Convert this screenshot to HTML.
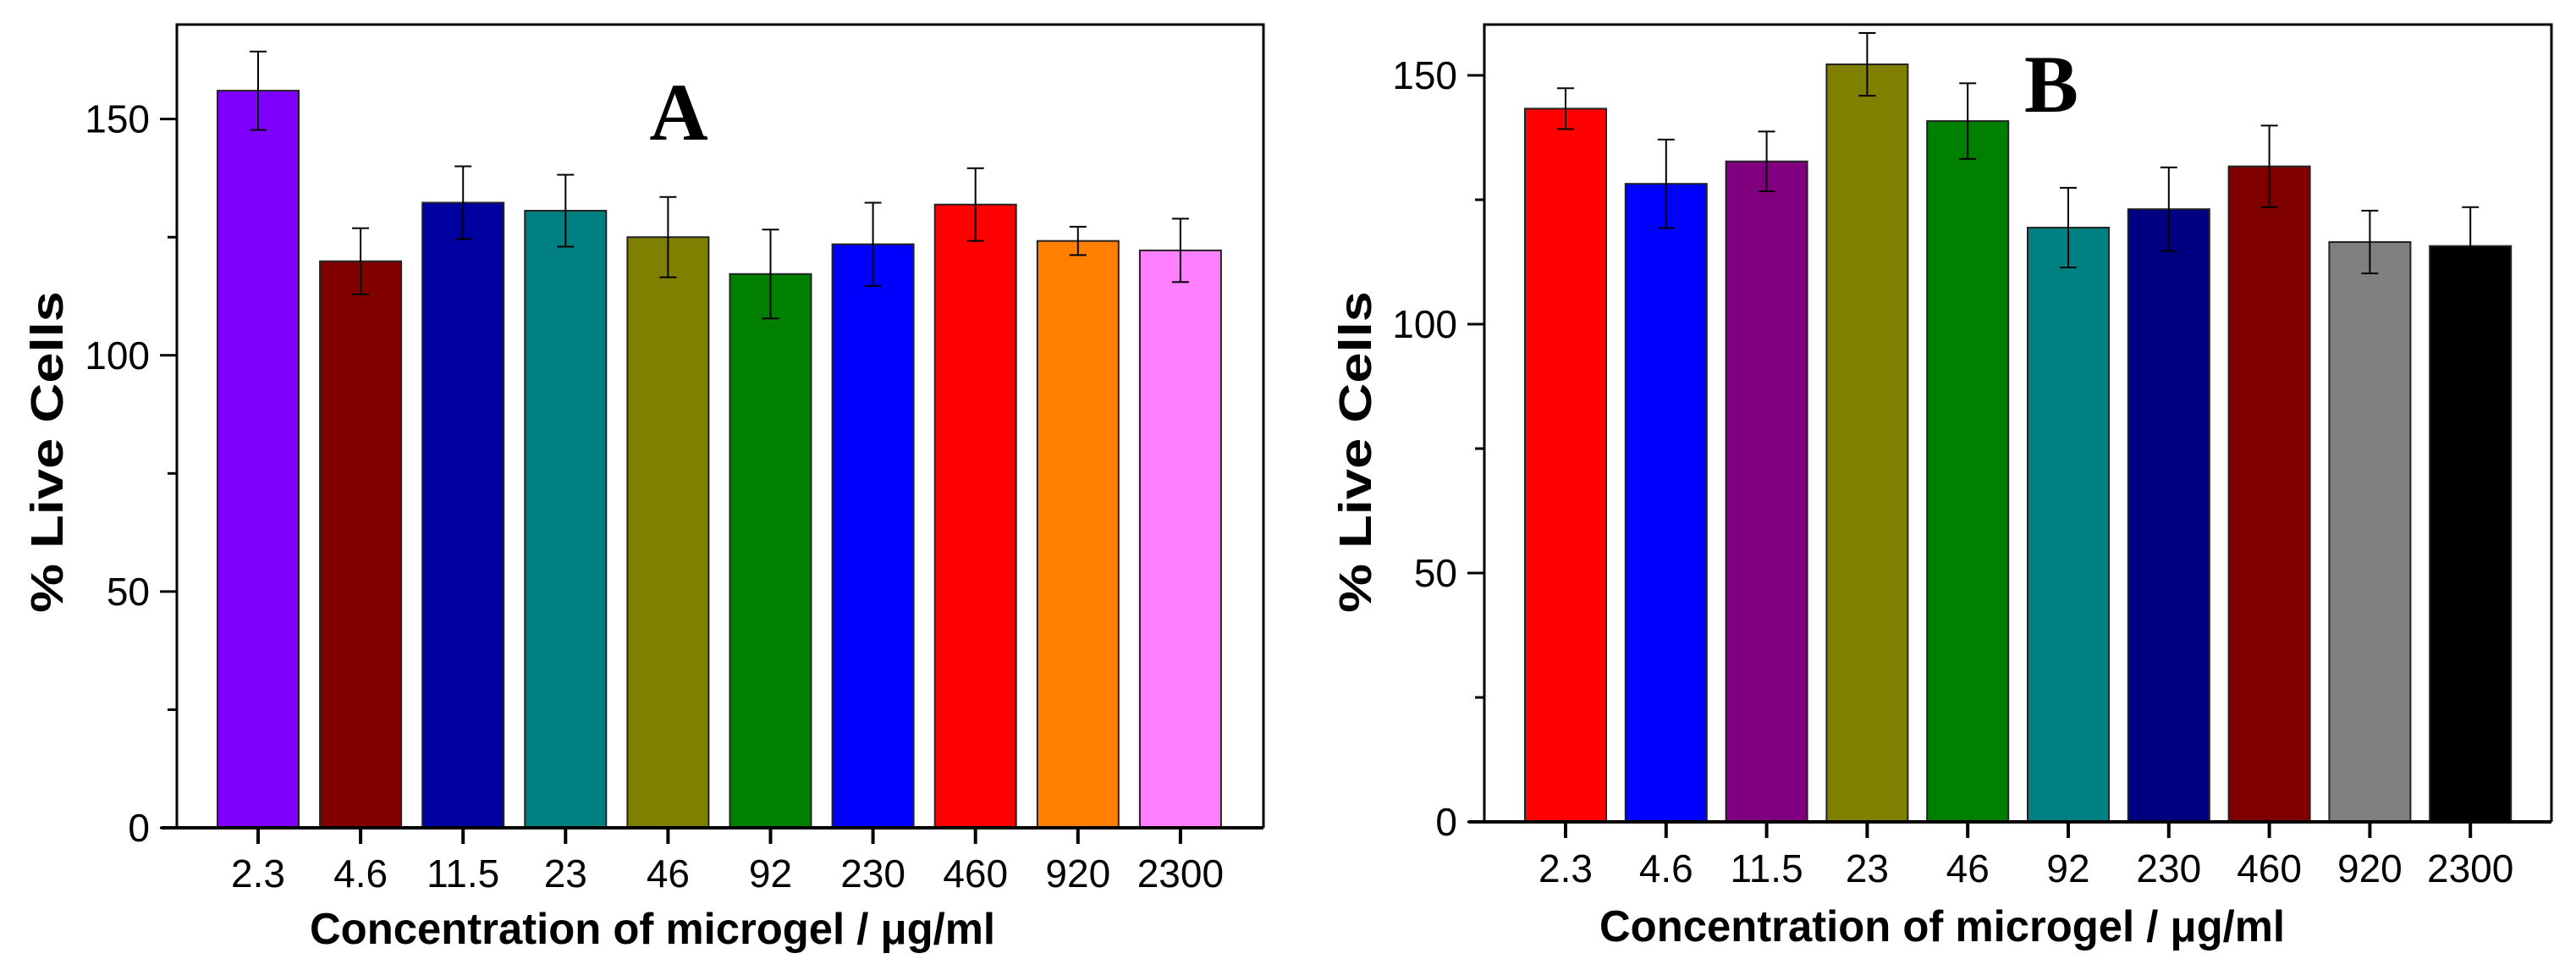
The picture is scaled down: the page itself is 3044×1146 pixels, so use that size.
<!DOCTYPE html>
<html><head><meta charset="utf-8"><style>
html,body{margin:0;padding:0;background:#fff;}
svg{display:block;font-family:"Liberation Sans",Arial,sans-serif;}
</style></head><body>
<svg id="fig" width="3044" height="1146" viewBox="0 0 3044 1146" xmlns="http://www.w3.org/2000/svg"></svg>
<script>
const categories = ["2.3","4.6","11.5","23","46","92","230","460","920","2300"];
const valuesA = [156.0,119.9,132.3,130.6,125.0,117.2,123.5,131.9,124.2,122.2];
const errorsA = [8.3,7.0,7.7,7.6,8.5,9.4,8.8,7.7,3.0,6.7];
const colorsA = ["#8000ff","#800000","#0000a0","#008080","#808000","#008000","#0000ff","#ff0000","#ff8000","#ff80ff"];
const valuesB = [143.3,128.2,132.7,152.2,140.8,119.4,123.1,131.7,116.5,115.7];
const errorsB = [4.1,8.9,6.0,6.3,7.6,8.0,8.4,8.2,6.3,7.8];
const colorsB = ["#ff0000","#0000ff","#800080","#808000","#008000","#008080","#000080","#800000","#808080","#000000"];
const yTicks = [0,50,100,150];
const yMinorTicks = [25,75,125];

const NS = "http://www.w3.org/2000/svg";
const svg = document.getElementById("fig");
function mk(tag, attrs, parent){const e=document.createElementNS(NS,tag);for(const k in attrs)e.setAttribute(k,attrs[k]);(parent||svg).appendChild(e);return e;}

function panel(cfg){
  const g = mk("g",{});
  
  
  const {L,R,T,B,ymax,x0,step} = cfg;
  const y = v => B - v/ymax*(B-T);
  const x = i => x0 + i*step;
  // bars
  cfg.values.forEach((v,i)=>{
    const r = mk("rect",{x:x(i)-48,y:y(v),width:96,height:B-y(v),fill:cfg.colors[i],stroke:"#222","stroke-width":2},g);
    
    
    const e = cfg.errors[i];
    const eb = mk("path",{d:`M${x(i)},${y(v+e)}V${y(v-e)}M${x(i)-10},${y(v+e)}H${x(i)+10}M${x(i)-10},${y(v-e)}H${x(i)+10}`,stroke:"#000","stroke-width":2,fill:"none"},g);
    
    
  });
  // frame
  const fr = mk("path",{d:`M${L},${B}V${T}H${R}V${B}`,stroke:"#000","stroke-width":3,fill:"none"},g);
  
  
  const xa = mk("line",{x1:L-18,y1:B,x2:R,y2:B,stroke:"#000","stroke-width":4},g);
  
  
  yTicks.forEach(t=>{
    mk("line",{x1:L-20,y1:y(t),x2:L,y2:y(t),stroke:"#000","stroke-width":3},g);
    const tl = mk("text",{x:L-32,y:y(t)+16,"font-size":46,"text-anchor":"end",fill:"#000"},g);
    tl.textContent = t;
    
    
  });
  yMinorTicks.forEach(t=>{
    mk("line",{x1:L-11,y1:y(t),x2:L,y2:y(t),stroke:"#000","stroke-width":3},g);
  });
  categories.forEach((c,i)=>{
    mk("line",{x1:x(i),y1:B,x2:x(i),y2:B+19,stroke:"#000","stroke-width":4},g);
    const tl = mk("text",{x:x(i),y:cfg.tickBase,"font-size":46,"text-anchor":"middle",fill:"#000"},g);
    tl.textContent = c;
    
    
  });
  const xt = mk("text",{x:cfg.xtX,y:cfg.xtY,"font-size":52,"font-weight":"bold","text-anchor":"middle",textLength:810,lengthAdjust:"spacingAndGlyphs"},g);
  xt.textContent = "Concentration of microgel / \u03BCg/ml";
  
  
  const yt = mk("text",{x:0,y:0,"font-size":54,"font-weight":"bold","text-anchor":"middle",transform:`translate(${cfg.ytX},${cfg.ytY}) rotate(-90)`,textLength:380,lengthAdjust:"spacingAndGlyphs"},g);
  yt.textContent = "% Live Cells";
  
  
  const lb = mk("text",{x:cfg.lbX,y:cfg.lbY,"font-size":96,"font-weight":"bold","font-family":"Liberation Serif, serif","text-anchor":"middle"},g);
  lb.textContent = cfg.label;
  
  
}

panel({name:"panel-a",L:209,R:1493,T:29,B:978,ymax:170,x0:305,step:121.1,
  values:valuesA,errors:errorsA,colors:colorsA,tickBase:1048,xtX:771,xtY:1115,ytX:74,ytY:534,
  label:"A",lbX:802,lbY:165});
panel({name:"panel-b",L:1754,R:3015,T:29,B:971,ymax:160.2,x0:1850,step:118.8,
  values:valuesB,errors:errorsB,colors:colorsB,tickBase:1042,xtX:2295,xtY:1112,ytX:1620,ytY:534,
  label:"B",lbX:2424,lbY:132});
</script>
</body></html>
